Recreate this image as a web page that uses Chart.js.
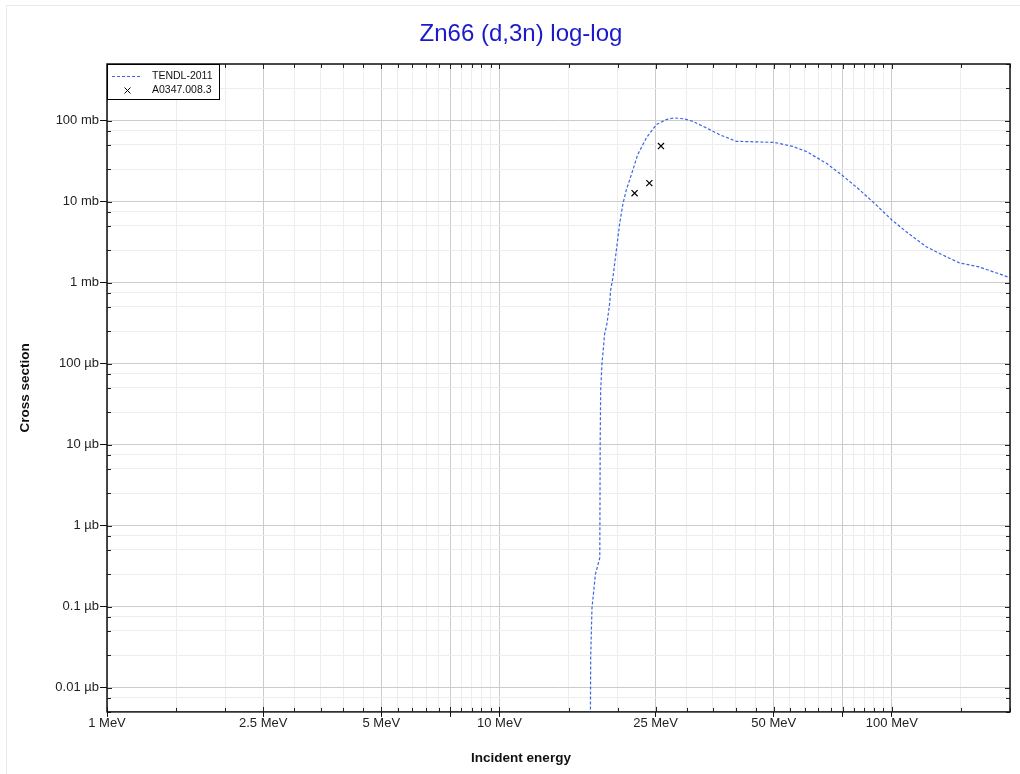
<!DOCTYPE html>
<html>
<head>
<meta charset="utf-8">
<title>Zn66 (d,3n) log-log</title>
<script src="https://cdn.jsdelivr.net/npm/chart.js@4.4.0/dist/chart.umd.min.js"></script>
<style>
  html, body { margin: 0; padding: 0; background: #fff; overflow: hidden; }
  #wrap { position: relative; width: 1020px; height: 774px; }
  #frame { position: absolute; left: 6px; top: 5px; width: 1040px; height: 800px; border: 1px solid #ebebeb; }
  canvas { position: absolute; left: 0; top: 0; }
</style>
</head>
<body>
<div id="wrap">
  <div id="frame"></div>
  <canvas id="chart" width="1020" height="774"></canvas>
</div>
<script>
// TENDL-2011 evaluation, energy in MeV, cross section in mb
const tendlEnergy = [17.0, 17.08, 17.21, 17.56, 18.02, 18.06, 18.11, 18.25, 18.54, 18.79, 19.09, 19.2,
  19.47, 19.86, 20.25, 20.65, 21.06, 21.68, 22.5, 23.67, 25.1, 26.6, 27.9, 29.6, 31.1, 33.7, 36.4,
  40.1, 46.0, 50.2, 55.9, 60.5, 68.0, 75.0, 82.7, 91.2, 100, 108.8, 122.4, 135, 148.7, 167, 200];
const tendlXs = [1e-7, 2.3e-5, 9.5e-5, 2.5e-4, 4.0e-4, 0.0101, 0.046, 0.099, 0.233, 0.31, 0.55, 0.8,
  1.17, 2.52, 5.4, 9.5, 14.0, 21.4, 37.9, 61, 89, 103, 108, 105, 98, 81, 67,
  55.5, 54.5, 53.8, 48, 41.6, 29.9, 20.8, 14.0, 9.1, 5.93, 4.25, 2.77, 2.18, 1.75, 1.56, 1.15];

// EXFOR A0347.008.3
const expEnergy = [22.1, 24.1, 25.8];
const expXs = [12.7, 16.9, 48.5];

// axis ticks (gridlines), the darker ones and the labelled ones
const xTicks = [1, 1.5, 2, 2.5, 3, 3.5, 4, 4.5, 5, 5.5, 6, 6.5, 7, 7.5, 8, 8.5, 9, 9.5, 10,
  15, 20, 25, 30, 35, 40, 45, 50, 55, 60, 65, 70, 75, 80, 85, 90, 95, 100, 150, 200];
const xMajor = [1, 2.5, 5, 7.5, 10, 25, 50, 75, 100];
const xLabelValues = [1, 2.5, 5, 10, 25, 50, 100];
const xLabels = ['1 MeV', '2.5 MeV', '5 MeV', '10 MeV', '25 MeV', '50 MeV', '100 MeV'];

const yTicks = [5e-6, 7.5e-6, 1e-5, 2.5e-5, 5e-5, 7.5e-5, 1e-4, 2.5e-4, 5e-4, 7.5e-4,
  1e-3, 2.5e-3, 5e-3, 7.5e-3, 0.01, 0.025, 0.05, 0.075, 0.1, 0.25, 0.5, 0.75,
  1, 2.5, 5, 7.5, 10, 25, 50, 75, 100, 250, 500];
const yLabelValues = [1e-5, 1e-4, 1e-3, 0.01, 0.1, 1, 10, 100];
const yLabels = ['0.01 µb', '0.1 µb', '1 µb', '10 µb', '100 µb', '1 mb', '10 mb', '100 mb'];

const lineBlue = 'rgb(60,100,230)';

Chart.defaults.font.family = "'Liberation Sans', Arial, sans-serif";
Chart.defaults.color = '#222';

const frameAndLegend = {
  id: 'frameAndLegend',
  afterDraw(chart) {
    const { ctx, chartArea: a, scales } = chart;
    ctx.save();
    // inner tick marks on all four sides
    ctx.strokeStyle = '#222';
    ctx.lineWidth = 1;
    scales.x.ticks.forEach(t => {
      const px = Math.round(scales.x.getPixelForValue(t.value)) + 0.5;
      const len = t.major ? 5 : 4;
      ctx.beginPath();
      ctx.moveTo(px, a.bottom); ctx.lineTo(px, a.bottom - len);
      ctx.moveTo(px, a.top); ctx.lineTo(px, a.top + len);
      ctx.stroke();
    });
    scales.y.ticks.forEach(t => {
      const py = Math.round(scales.y.getPixelForValue(t.value)) + 0.5;
      const len = t.major ? 5 : 4;
      ctx.beginPath();
      ctx.moveTo(a.left, py); ctx.lineTo(a.left + len, py);
      ctx.moveTo(a.right, py); ctx.lineTo(a.right - len, py);
      ctx.stroke();
    });
    // plot frame
    ctx.strokeStyle = '#111';
    ctx.lineWidth = 1.5;
    ctx.strokeRect(a.left, a.top, a.right - a.left, a.bottom - a.top);

    // legend in the upper left corner
    const lx = a.left, ly = a.top;
    ctx.fillStyle = '#fff';
    ctx.fillRect(lx, ly, 112, 35);
    ctx.strokeStyle = '#000';
    ctx.lineWidth = 1;
    ctx.strokeRect(lx + 0.5, ly + 0.5, 112, 35);
    const ds = chart.data.datasets;
    ctx.strokeStyle = ds[0].borderColor;
    ctx.lineWidth = ds[0].borderWidth;
    ctx.setLineDash(ds[0].borderDash);
    ctx.beginPath();
    ctx.moveTo(lx + 5, ly + 12.5); ctx.lineTo(lx + 34, ly + 12.5);
    ctx.stroke();
    ctx.setLineDash([]);
    ctx.strokeStyle = '#000';
    ctx.lineWidth = 1;
    const cx = lx + 20.5, cy = ly + 26.5, r = 3;
    ctx.beginPath();
    ctx.moveTo(cx - r, cy - r); ctx.lineTo(cx + r, cy + r);
    ctx.moveTo(cx - r, cy + r); ctx.lineTo(cx + r, cy - r);
    ctx.stroke();
    ctx.fillStyle = '#111';
    ctx.font = "10.5px 'Liberation Sans', Arial, sans-serif";
    ctx.textBaseline = 'middle';
    ctx.textAlign = 'left';
    ctx.fillText(ds[0].label, lx + 45, ly + 12.5);
    ctx.fillText(ds[1].label, lx + 45, ly + 26.5);
    ctx.restore();
  }
};

new Chart(document.getElementById('chart'), {
  type: 'scatter',
  data: {
    datasets: [
      {
        label: 'TENDL-2011',
        data: tendlEnergy.map((e, i) => ({ x: e, y: tendlXs[i] })),
        showLine: true,
        borderColor: lineBlue,
        borderWidth: 1.2,
        borderDash: [3, 2],
        pointRadius: 0,
        fill: false
      },
      {
        label: 'A0347.008.3',
        data: expEnergy.map((e, i) => ({ x: e, y: expXs[i] })),
        pointStyle: 'crossRot',
        pointRadius: 4.3,
        borderColor: '#000',
        borderWidth: 1.2,
        backgroundColor: '#000'
      }
    ]
  },
  options: {
    responsive: false,
    animation: false,
    layout: { padding: { left: 32, right: 10, top: 0, bottom: 0 } },
    plugins: {
      legend: { display: false },
      tooltip: { enabled: false },
      title: {
        display: true,
        text: 'Zn66 (d,3n) log-log',
        color: '#1a1acc',
        font: { size: 24, weight: 'normal' },
        padding: { top: 19.6, bottom: 15.6 }
      },
      subtitle: {
        display: true,
        position: 'bottom',
        text: 'Incident energy',
        color: '#111',
        font: { size: 13.5, weight: 'bold' },
        padding: { top: 0, bottom: 7.9 }
      }
    },
    scales: {
      x: {
        type: 'logarithmic',
        min: 1,
        max: 200,
        afterBuildTicks: scale => {
          scale.ticks = xTicks.map(v => ({ value: v, major: xMajor.includes(v) }));
        },
        afterFit: scale => { scale.height = 38; },
        ticks: {
          autoSkip: false,
          maxRotation: 0,
          padding: -1,
          font: { size: 13 },
          color: '#222',
          callback: v => {
            const i = xLabelValues.indexOf(v);
            return i >= 0 ? xLabels[i] : '';
          }
        },
        grid: {
          color: c => (c.tick && c.tick.major) ? '#cccccc' : '#ededed',
          tickColor: c => (c.tick && c.tick.major) ? '#111' : 'rgba(0,0,0,0)',
          tickLength: 5,
          lineWidth: 1
        },
        border: { display: false }
      },
      y: {
        type: 'logarithmic',
        min: 5e-6,
        max: 500,
        afterBuildTicks: scale => {
          scale.ticks = yTicks.map(v => ({ value: v, major: yLabelValues.includes(v) }));
        },
        afterFit: scale => { scale.width = 75; },
        ticks: {
          autoSkip: false,
          padding: 1,
          font: { size: 13 },
          color: '#222',
          callback: v => {
            const i = yLabelValues.indexOf(v);
            return i >= 0 ? yLabels[i] : '';
          }
        },
        grid: {
          color: c => (c.tick && c.tick.major) ? '#cccccc' : '#ededed',
          tickColor: c => (c.tick && c.tick.major) ? '#111' : 'rgba(0,0,0,0)',
          tickLength: 7,
          lineWidth: 1
        },
        border: { display: false },
        title: {
          display: true,
          text: 'Cross section',
          color: '#111',
          font: { size: 13.5, weight: 'bold' },
          padding: { top: -15.1, bottom: 0 }
        }
      }
    }
  },
  plugins: [frameAndLegend]
});
</script>
</body>
</html>
